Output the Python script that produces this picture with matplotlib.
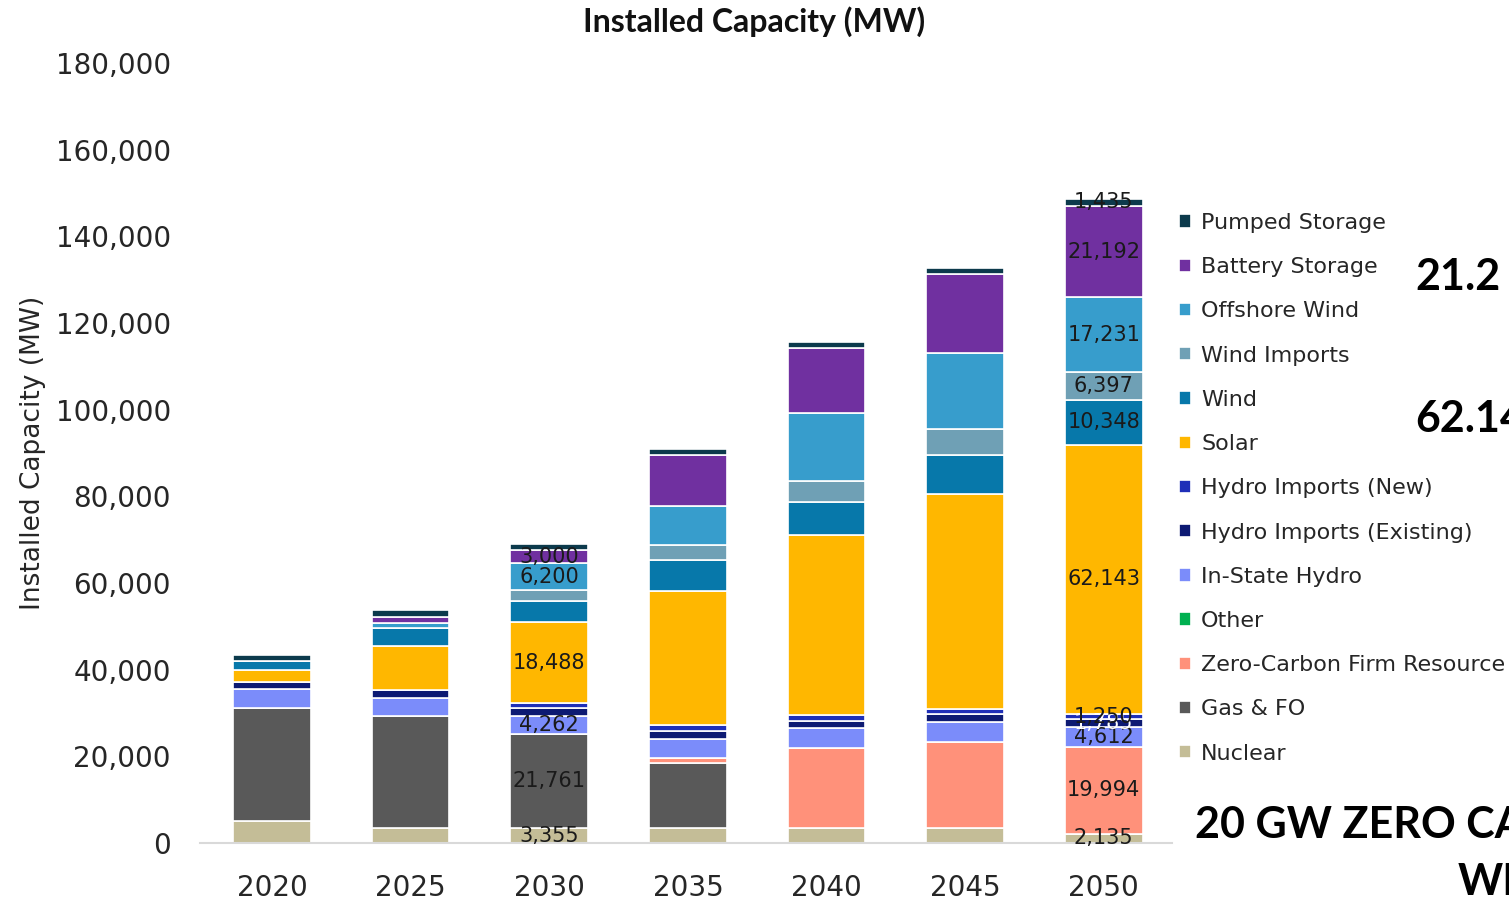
import numpy as np
import matplotlib.pyplot as plt

years = ["2020", "2025", "2030", "2035", "2040", "2045", "2050"]

# stack order, bottom to top
series = [
    "Nuclear", "Gas & FO", "Zero-Carbon Firm Resource", "Other",
    "In-State Hydro", "Hydro Imports (Existing)", "Hydro Imports (New)",
    "Solar", "Wind", "Wind Imports", "Offshore Wind",
    "Battery Storage", "Pumped Storage",
]

nuclear = [5150, 3355, 3355, 3355, 3355, 3355, 2135]
gas_fo = [26050, 25900, 21761, 15040, 0, 0, 0]
zero_carbon = [0, 0, 0, 1300, 18500, 19994, 19994]
other = [0, 0, 0, 0, 0, 0, 0]
instate_hydro = [4262, 4262, 4262, 4400, 4612, 4612, 4612]
hydro_existing = [1785, 1785, 1785, 1785, 1785, 1785, 1785]
hydro_new = [0, 0, 1250, 1250, 1250, 1250, 1250]
solar = [2770, 10230, 18488, 31000, 41600, 49600, 62143]
wind = [1900, 4010, 4950, 7160, 7540, 8870, 10348]
wind_imports = [0, 0, 2500, 3550, 4900, 6160, 6397]
offshore = [0, 1300, 6200, 9000, 15600, 17500, 17231]
battery = [0, 1380, 3000, 11600, 15000, 18200, 21192]
pumped = [1435, 1435, 1435, 1435, 1435, 1435, 1435]

values = [nuclear, gas_fo, zero_carbon, other, instate_hydro, hydro_existing,
          hydro_new, solar, wind, wind_imports, offshore, battery, pumped]

colors = ["#c4bd97", "#595959", "#ff917a", "#00b050", "#7b8cfa", "#0d1a73",
          "#1f2fb8", "#ffb700", "#0778aa", "#6fa0b5", "#379dcc", "#7030a0",
          "#0c3a4c"]

# which segments carry a value label (2030 and 2050 bars only)
labelled_2030 = {"Nuclear", "Gas & FO", "In-State Hydro", "Solar",
                 "Offshore Wind", "Battery Storage"}

fig = plt.figure(figsize=(15.09, 9.06), dpi=100)
ax = fig.add_axes([0.1325, 0.0695, 0.644, 0.861])

x = np.arange(len(years))
bottom = np.zeros(len(years))
handles = []
for name, vals, col in zip(series, values, colors):
    vals = np.array(vals, dtype=float)
    bars = ax.bar(x, vals, 0.56, bottom=bottom, color=col,
                  edgecolor="white", linewidth=1.2, label=name)
    handles.append(bars)
    labels = []
    for i, v in enumerate(vals):
        show = v > 0 and (years[i] == "2050" or
                          (years[i] == "2030" and name in labelled_2030))
        labels.append(f"{int(v):,}" if show else "")
    txtcol = "white" if name == "Hydro Imports (Existing)" else "#1a1a1a"
    ax.bar_label(bars, labels=labels, label_type="center",
                 fontsize=15, color=txtcol)
    bottom += vals

ax.set_xlim(-0.52, 6.49)
ax.set_ylim(0, 180000)
ax.set_xticks(x)
ax.set_xticklabels(years)
ax.set_yticks(np.arange(0, 180001, 20000))
ax.yaxis.set_major_formatter(plt.FuncFormatter(lambda v, p: f"{int(v):,}"))
ax.tick_params(axis="both", length=0, labelsize=20, colors="#262626")
ax.tick_params(axis="y", pad=21)
ax.tick_params(axis="x", pad=22)

for s in ["top", "right", "left"]:
    ax.spines[s].set_visible(False)
ax.spines["bottom"].set_color("#d9d9d9")
ax.spines["bottom"].set_linewidth(1.5)

ax.set_ylabel("Installed Capacity (MW)", fontsize=19, color="#262626")
ax.yaxis.set_label_coords(-0.158, 0.5)

fig.text(0.5, 0.9757, "Installed Capacity (MW)", ha="center", va="center",
         fontsize=23, fontweight="bold", family="Lato", color="#111111")

fig.legend(handles[::-1], series[::-1], loc="upper left",
           bbox_to_anchor=(0.768, 0.787), frameon=False, fontsize=16,
           handlelength=0.55, handleheight=0.55, handletextpad=0.45,
           labelspacing=1.09, labelcolor="#262626")

fig.text(0.938, 0.694, "21.2", fontsize=31, fontweight="bold", family="Lato",
         va="center", ha="left", color="#000000")
fig.text(0.938, 0.537, "62.14", fontsize=31, fontweight="bold", family="Lato",
         va="center", ha="left", color="#000000")
fig.text(0.792, 0.089, "20 GW ZERO CARBON", fontsize=31, fontweight="bold",
         family="Lato", va="center", ha="left", color="#000000")
fig.text(0.966, 0.026, "WITH", fontsize=31, fontweight="bold",
         family="Lato", va="center", ha="left", color="#000000")

fig.savefig("out.png", dpi=100)
